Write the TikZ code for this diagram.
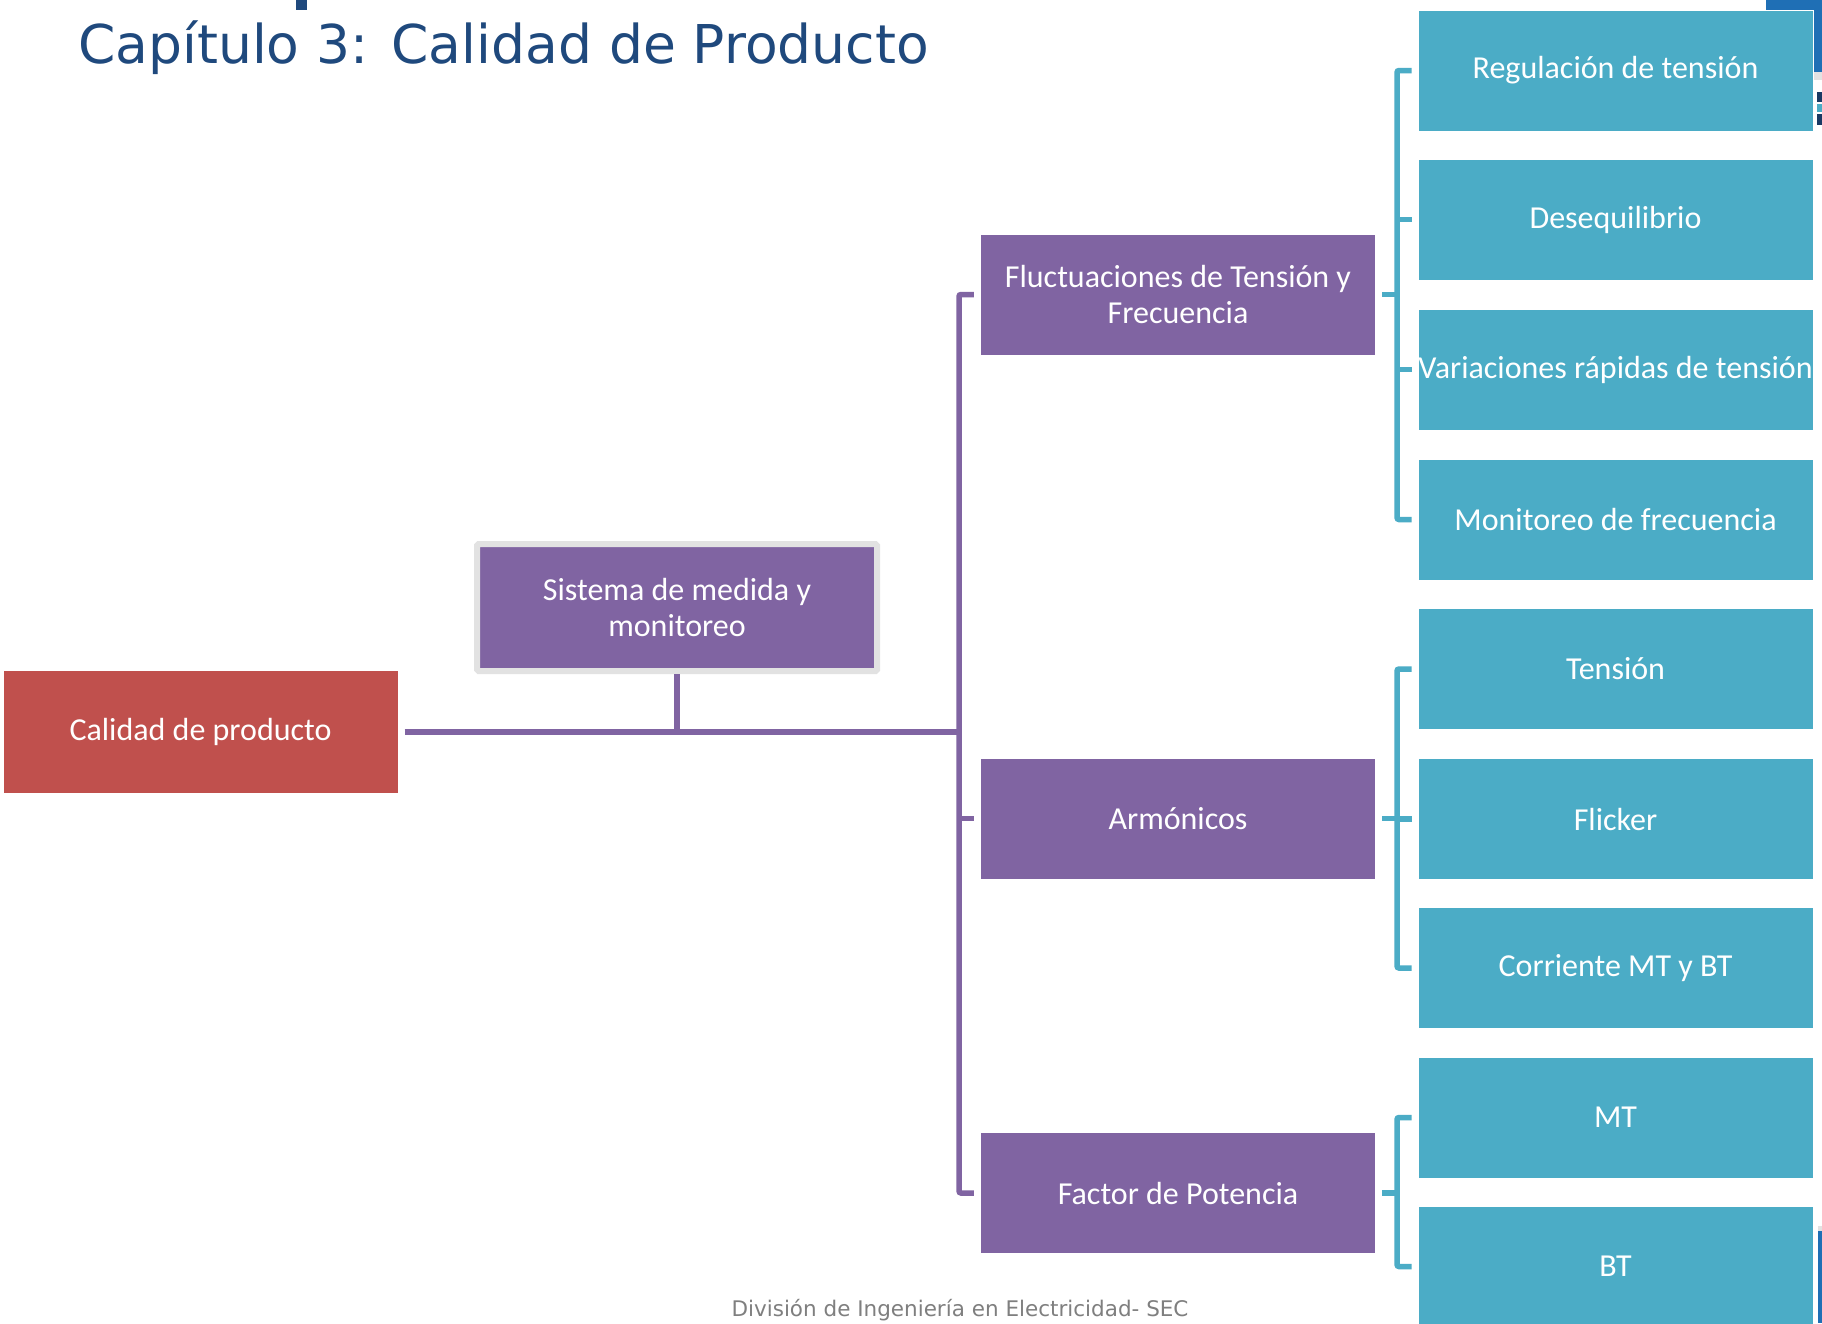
\documentclass[tikz,border=0pt]{standalone}
\usepackage{fontspec}
\setmainfont{Carlito}
\newfontfamily\titlefont{DejaVu Sans}
\definecolor{cred}{HTML}{C0504D}
\definecolor{cpurple}{HTML}{8064A2}
\definecolor{cblue}{HTML}{4BACC6}
\definecolor{ctitle}{HTML}{1F497D}
\definecolor{cfoot}{HTML}{7F7F7F}
\definecolor{cslide}{HTML}{1F6FB5}
\definecolor{cborder}{HTML}{E2E2E2}
\tikzset{
  boxtext/.style={text=white, font=\fontsize{32}{36}\selectfont, align=center, inner sep=0pt},
  redbox/.style={boxtext, fill=cred, minimum width=394pt, minimum height=122pt},
  purplebox/.style={boxtext, fill=cpurple, minimum width=394pt, minimum height=120pt},
  bluebox/.style={boxtext, fill=cblue, draw=white, line width=0.6pt, minimum width=395pt, minimum height=121pt},
  pline/.style={draw=cpurple, line width=5.5pt},
  bline/.style={draw=cblue, line width=5.5pt},
}
\begin{document}
\begin{tikzpicture}[x=1pt, y=-1pt]
\useasboundingbox (0,0) rectangle (1822,1323);
\clip (0,0) rectangle (1822,1323);
\fill[white] (0,0) rectangle (1822,1323);
% slide decorations
\fill[ctitle] (296,0) rectangle (307,10);
\fill[cslide] (1766,0) rectangle (1822,72);
\fill[cborder] (1813,72) rectangle (1822,80);
\fill[ctitle!80!black] (1817,92) rectangle (1822,102);
\fill[cblue] (1817,104) rectangle (1822,112);
\fill[ctitle!80!black] (1817,114) rectangle (1822,125);
\fill[cborder] (1818,1226) rectangle (1822,1231);
\fill[cslide] (1818,1231) rectangle (1822,1323);
% title
\node[anchor=base west, inner sep=0pt, text=ctitle, font=\titlefont\fontsize{53.5}{60}\selectfont] (title) at (78,63) {Capítulo 3: Calidad de Producto};
% nodes
\node[redbox] (red) at (200.5,732) {Calidad de producto};
\node[boxtext, fill=cpurple, draw=cborder, line width=6pt, rounded corners=1.5pt, minimum width=400pt, minimum height=127pt] (sis) at (677,607.5) {Sistema de medida y\\monitoreo};
\node[purplebox] (fl) at (1178,294.5) {Fluctuaciones de Tensión y\\Frecuencia};
\node[purplebox] (arm) at (1178,818.5) {Armónicos};
\node[purplebox] (fp) at (1178,1193) {Factor de Potencia};
\node[bluebox] (b1) at (1615.5,70.5) {Regulación de tensión};
\node[bluebox] (b2) at (1615.5,219.5) {Desequilibrio};
\node[bluebox] (b3) at (1615.5,369.5) {Variaciones rápidas de tensión};
\node[bluebox] (b4) at (1615.5,519.5) {Monitoreo de frecuencia};
\node[bluebox] (b5) at (1615.5,669) {Tensión};
\node[bluebox] (b6) at (1615.5,819) {Flicker};
\node[bluebox] (b7) at (1615.5,968) {Corriente MT y BT};
\node[bluebox] (b8) at (1615.5,1117.5) {MT};
\node[bluebox] (b9) at (1615.5,1266.5) {BT};
% footer
\node[text=cfoot, font=\titlefont\fontsize{21.5}{24}\selectfont, inner sep=0pt] (foot) at (960,1310) {División de Ingeniería en Electricidad- SEC};
% purple connectors
\coordinate (tr) at (959,732);
\draw[pline] ([xshift=7pt]red.east) -- (tr);
\draw[pline] (sis.south) -- (sis.south |- tr);
\draw[pline, rounded corners=2pt] ([xshift=-7pt]fl.west) -- (fl.west -| tr) -- (fp.west -| tr) -- ([xshift=-7pt]fp.west);
\draw[pline] (arm.west -| tr) -- ([xshift=-7pt]arm.west);
% blue brackets
\coordinate (c1) at (1397,0);
\draw[bline] ([xshift=7pt]fl.east) -- (fl.east -| c1);
\draw[bline, rounded corners=2pt] ([xshift=-6pt]b1.west) -- (b1.west -| c1) -- (b4.west -| c1) -- ([xshift=-6pt]b4.west);
\draw[bline] (b2.west -| c1) -- ([xshift=-6pt]b2.west);
\draw[bline] (b3.west -| c1) -- ([xshift=-6pt]b3.west);
\draw[bline] ([xshift=7pt]arm.east) -- (arm.east -| c1);
\draw[bline, rounded corners=2pt] ([xshift=-6pt]b5.west) -- (b5.west -| c1) -- (b7.west -| c1) -- ([xshift=-6pt]b7.west);
\draw[bline] (b6.west -| c1) -- ([xshift=-6pt]b6.west);
\draw[bline] ([xshift=7pt]fp.east) -- (fp.east -| c1);
\draw[bline, rounded corners=2pt] ([xshift=-6pt]b8.west) -- (b8.west -| c1) -- (b9.west -| c1) -- ([xshift=-6pt]b9.west);
\end{tikzpicture}
\end{document}
